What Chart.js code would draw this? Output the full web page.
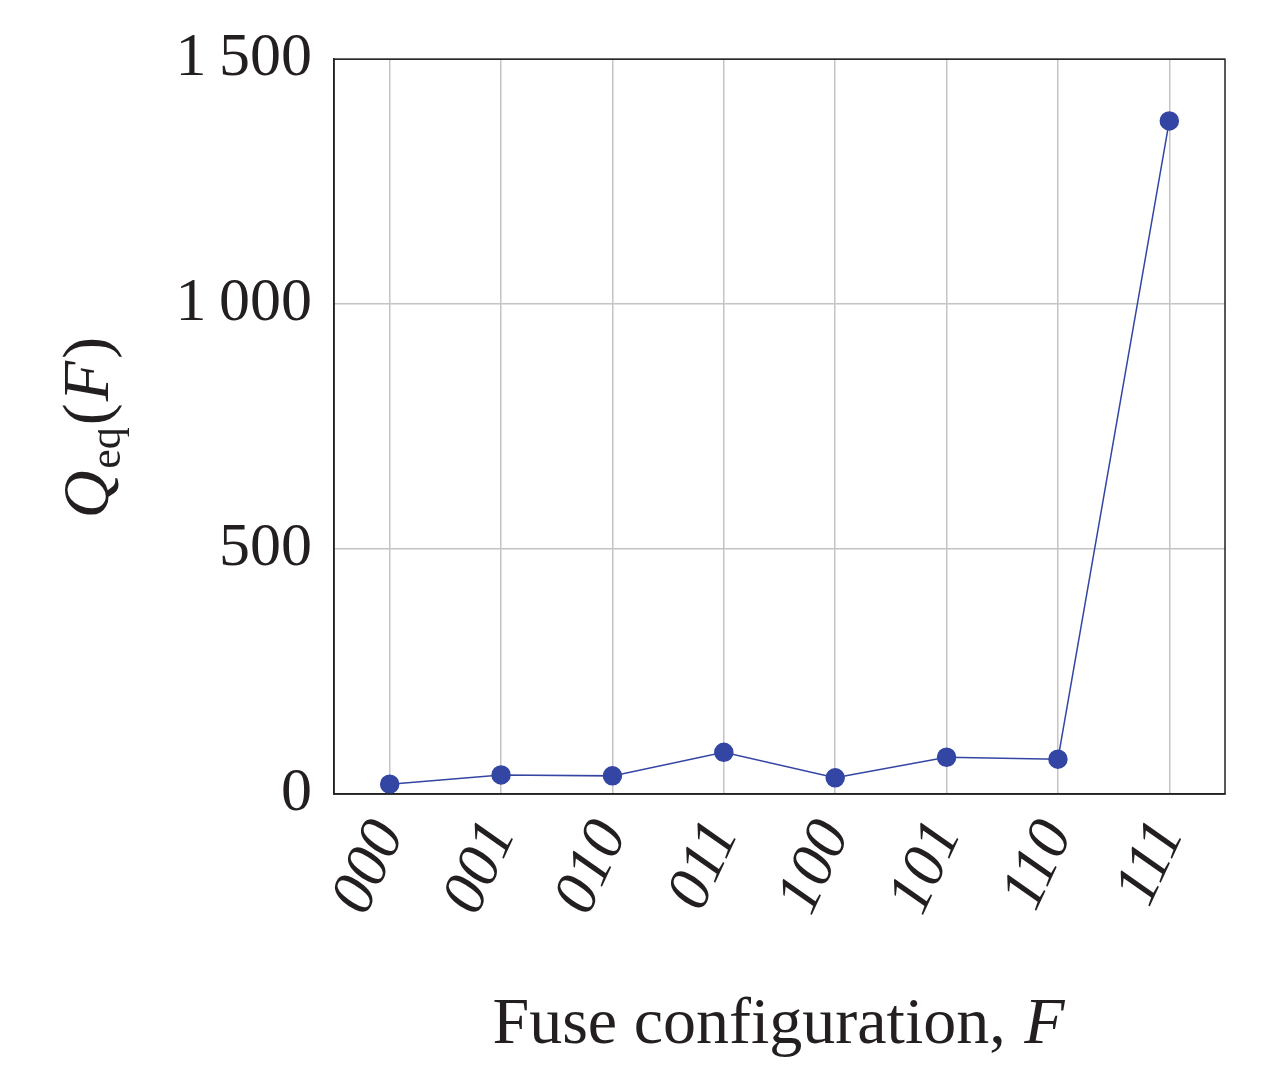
<!DOCTYPE html>
<html>
<head>
<meta charset="utf-8">
<script src="https://cdn.jsdelivr.net/npm/chart.js@4"></script>
<style>
  body { margin: 0; background: #fff; }
  #wrap { width: 1265px; height: 1092px; }
</style>
</head>
<body>
<div id="wrap"><canvas id="chart"></canvas></div>
<script>
const configs = ['000', '001', '010', '011', '100', '101', '110', '111'];
const qeq = [20, 39, 37, 85, 33, 75, 71, 1374];
const yTicks = [0, 500, 1000, 1500];

const serif = '"Liberation Serif", "DejaVu Serif", serif';

function drawParts(ctx, parts, cx, y) {
    let w = 0;
    for (const p of parts) { ctx.font = p[1] + ' ' + serif; w += ctx.measureText(p[0]).width + 2; }
    let x = cx - w / 2;
    for (const p of parts) {
        ctx.font = p[1] + ' ' + serif;
        ctx.fillText(p[0], x, y + p[2]);
        x += ctx.measureText(p[0]).width + 2;
    }
}

// frame around plot + axis titles with italics/subscript
const frame = {
    id: 'frame',
    afterDraw(c) {
        const { ctx, chartArea: a } = c;
        ctx.save();
        ctx.strokeStyle = '#222';
        ctx.lineWidth = 1.5;
        ctx.strokeRect(a.left, a.top, a.right - a.left, a.bottom - a.top);
        ctx.fillStyle = '#231f20';
        ctx.textBaseline = 'alphabetic';
        drawParts(ctx, [['Fuse configuration, ', '66px', 0], ['F', 'italic 66px', 0]], (a.left + a.right) / 2, 1043);
        ctx.translate(88, (a.top + a.bottom) / 2);
        ctx.rotate(-Math.PI / 2);
        drawParts(ctx, [['Q', 'italic 66px', 0], ['eq', '44px', 12], ['(', '66px', 0], ['F', 'italic 66px', 0], [')', '66px', 0]], 0, 20);
        ctx.restore();
    }
};

new Chart(document.getElementById('chart'), {
    type: 'line',
    data: {
        labels: configs,
        datasets: [{
            data: qeq,
            borderColor: '#3446a3',
            backgroundColor: '#3446a3',
            borderWidth: 1.5,
            pointRadius: 9,
            pointHoverRadius: 9,
            tension: 0,
        }],
    },
    options: {
        responsive: true,
        maintainAspectRatio: false,
        animation: false,
        layout: { padding: { top: 34, right: 40, left: 0, bottom: 0 } },
        plugins: { legend: { display: false }, tooltip: { enabled: false } },
        scales: {
            x: {
                offset: true,
                afterFit(s) { s.height = 298; },
                grid: { color: '#c4c4c4', lineWidth: 1.5, offset: false, drawTicks: false },
                border: { color: '#222', width: 1.5 },
                ticks: {
                    color: '#231f20', padding: 16, maxRotation: 65, minRotation: 65,
                    font: { family: serif, size: 62, style: 'italic' },
                },
            },
            y: {
                min: 0, max: 1500,
                afterFit(s) { s.width = 334; },
                afterBuildTicks(s) { s.ticks = yTicks.map(v => ({ value: v })); },
                grid: { color: '#c4c4c4', lineWidth: 1.5, drawTicks: false },
                border: { color: '#222', width: 1.5 },
                ticks: {
                    color: '#231f20', padding: 22,
                    font: { family: serif, size: 62 },
                    callback: v => v >= 1000 ? String(v).replace(/(\d)(\d{3})$/, '$1\u2009$2') : String(v),
                },
            },
        },
    },
    plugins: [frame],
});
</script>
</body>
</html>
